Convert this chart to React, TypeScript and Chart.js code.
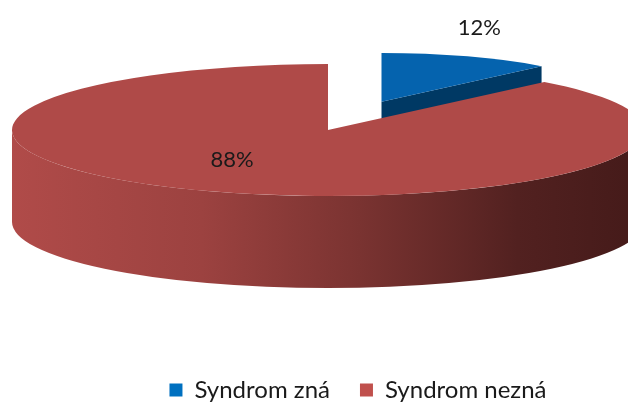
import { useEffect, useRef } from "react";
import { Chart, registerables } from "chart.js";
Chart.register(...registerables);

const categories = ["Syndrom zná", "Syndrom nezná"];
const values = [12, 88];
const percentLabels = ["12%", "88%"];

const TOP_COLORS = ["#0563AE", "#AF4A48"];
const LEGEND_COLORS = ["#0070C0", "#C0504D"];
const SIDE_BLUE = "#003964";

const TX = 328;
const TY = 130;
const RX = 316;
const RY = 66;
const DEPTH = 92;
const EXPLODE = [0.46, 0];
const SLICE_SCALE = [0.74, 1];
const LABEL_POS = [
  { fx: 0.84, fy: 1.2 },
  { fx: 0.825, fy: 0.49 },
];
const FONT = "Lato, 'Open Sans', sans-serif";

const pie3d = {
  id: "pie3d",
  beforeDatasetsDraw(chart: any) {
    const meta = chart.getDatasetMeta(0);
    const arcs = meta.data as any[];
    if (!arcs.length) return false;
    const ctx: CanvasRenderingContext2D = chart.ctx;
    const a0 = arcs[0];
    const cx0 = a0.x;
    const cy0 = a0.y;
    const R = a0.outerRadius;
    const sx = RX / R;
    const sy = RY / R;

    const centers = arcs.map((a, i) => {
      const mid = (a.startAngle + a.endAngle) / 2;
      const d = EXPLODE[i] * R;
      const ox = Math.cos(mid) * d;
      const oy = Math.sin(mid) * d;
      return { x: TX + ox * sx, y: TY + oy * sy, mid, k: SLICE_SCALE[i] };
    });

    const grad = ctx.createLinearGradient(TX - RX, 0, TX + RX, 0);
    grad.addColorStop(0, "#B04B49");
    grad.addColorStop(0.3, "#9C4240");
    grad.addColorStop(0.55, "#7A3331");
    grad.addColorStop(0.8, "#522120");
    grad.addColorStop(1, "#441A19");
    const sideFill = [SIDE_BLUE, grad];

    // side faces
    arcs.forEach((a, i) => {
      const c = centers[i];
      const rx = RX * c.k;
      const ry = RY * c.k;
      const dep = DEPTH * c.k;
      ctx.save();
      ctx.fillStyle = sideFill[i] as any;
      const radial = (ang: number) => {
        const px = c.x + Math.cos(ang) * rx;
        const py = c.y + Math.sin(ang) * ry;
        ctx.beginPath();
        ctx.moveTo(c.x, c.y);
        ctx.lineTo(px, py);
        ctx.lineTo(px, py + dep);
        ctx.lineTo(c.x, c.y + dep);
        ctx.closePath();
        ctx.fill();
      };
      if (Math.cos(a.startAngle) < -0.001) radial(a.startAngle);
      if (Math.cos(a.endAngle) > 0.001) radial(a.endAngle);
      for (let k = -1; k <= 1; k++) {
        const lo = Math.max(a.startAngle, 2 * Math.PI * k);
        const hi = Math.min(a.endAngle, 2 * Math.PI * k + Math.PI);
        if (hi > lo) {
          ctx.beginPath();
          ctx.ellipse(c.x, c.y, rx, ry, 0, lo, hi, false);
          ctx.lineTo(c.x + Math.cos(hi) * rx, c.y + dep + Math.sin(hi) * ry);
          ctx.ellipse(c.x, c.y + dep, rx, ry, 0, hi, lo, true);
          ctx.closePath();
          ctx.fill();
        }
      }
      ctx.restore();
    });

    // top faces, drawn by the arc elements
    arcs.forEach((a, i) => {
      const c = centers[i];
      ctx.save();
      ctx.translate(c.x, c.y);
      ctx.scale(sx * c.k, sy * c.k);
      ctx.translate(-cx0, -cy0);
      a.draw(ctx);
      ctx.restore();
    });

    // labels
    ctx.save();
    ctx.fillStyle = "#1a1a1a";
    ctx.font = `22px ${FONT}`;
    ctx.textAlign = "center";
    ctx.textBaseline = "middle";
    arcs.forEach((a, i) => {
      const c = centers[i];
      const lp = LABEL_POS[i];
      const x = c.x + Math.cos(c.mid) * RX * lp.fx;
      const y = c.y + Math.sin(c.mid) * RY * lp.fy;
      ctx.fillText(percentLabels[i], x, y);
    });
    ctx.restore();
    return false;
  },
};

export default function App() {
  const ref = useRef<HTMLCanvasElement | null>(null);
  useEffect(() => {
    if (!ref.current) return;
    const chart = new Chart(ref.current, {
      type: "pie",
      data: {
        labels: categories,
        datasets: [
          {
            data: values,
            backgroundColor: TOP_COLORS,
            borderWidth: 0,
          },
        ],
      },
      options: {
        animation: false,
        responsive: false,
        maintainAspectRatio: false,
        layout: { padding: { left: 88, right: 0, top: 0, bottom: -6 } },
        plugins: {
          tooltip: { enabled: false },
          legend: {
            position: "bottom",
            labels: {
              boxWidth: 13,
              boxHeight: 13,
              padding: 30,
              color: "#1a1a1a",
              font: { size: 24, family: FONT },
              generateLabels: (ch: any) => {
                const items = Chart.overrides.pie.plugins.legend.labels.generateLabels(ch);
                return items.map((it: any, i: number) => ({
                  ...it,
                  fillStyle: LEGEND_COLORS[i],
                  strokeStyle: LEGEND_COLORS[i],
                  lineWidth: 0,
                }));
              },
            },
          },
        },
      },
      plugins: [pie3d],
    });
    return () => chart.destroy();
  }, []);
  return (
    <div style={{ position: "absolute", left: 0, top: 0, width: 628, height: 406, background: "#fff" }}>
      <canvas ref={ref} width={628} height={406} />
    </div>
  );
}
